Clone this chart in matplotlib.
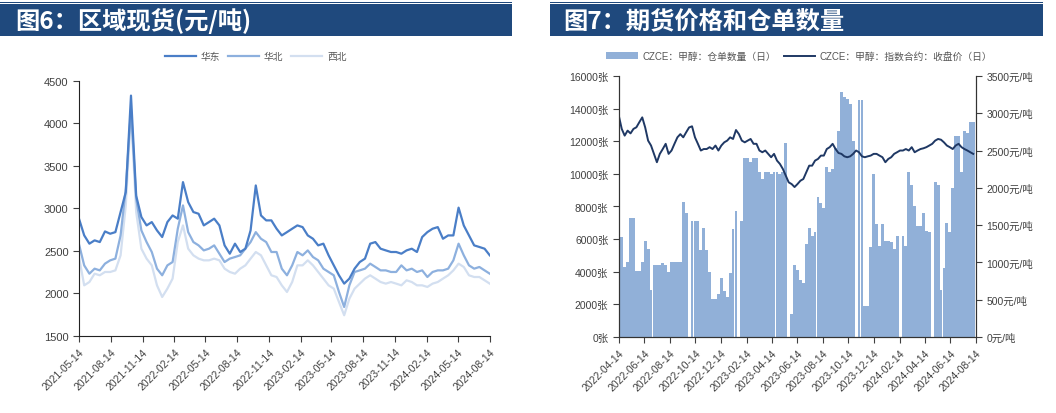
import numpy as np
import pandas as pd
import matplotlib
matplotlib.use("Agg")
import matplotlib.pyplot as plt
import matplotlib.dates as mdates
from matplotlib.patches import Rectangle

plt.rcParams['font.family'] = ['Liberation Sans', 'Noto Sans CJK SC', 'DejaVu Sans']

# ---- 图6 区域现货 (元/吨), semi-monthly readings 2021-05-14 .. 2024-08-14
east = [2880, 2684, 2586, 2625, 2605, 2730, 2703, 2722, 2958, 3192,
        4328, 3150, 2899, 2801, 2840, 2742, 2664, 2840, 2918, 2880,
        3310, 3075, 2958, 2938, 2801, 2840, 2880, 2801, 2566, 2468,
        2586, 2488, 2527, 2742, 3271, 2918, 2860, 2860, 2762, 2683,
        2722, 2762, 2801, 2781, 2683, 2644, 2566, 2586, 2449, 2331,
        2214, 2116, 2175, 2292, 2370, 2410, 2586, 2605, 2527, 2507,
        2488, 2488, 2468, 2507, 2527, 2488, 2664, 2722, 2762, 2781,
        2644, 2683, 2683, 3010, 2800, 2683, 2566, 2547, 2527, 2449]
north = [2580, 2331, 2233, 2292, 2272, 2351, 2390, 2410, 2683, 3232,
         4171, 3114, 2742, 2605, 2488, 2292, 2214, 2331, 2370, 2762,
         3036, 2722, 2605, 2566, 2507, 2527, 2566, 2468, 2370, 2410,
         2429, 2449, 2527, 2605, 2722, 2644, 2605, 2488, 2488, 2292,
         2214, 2331, 2488, 2449, 2507, 2429, 2390, 2292, 2253, 2214,
         2018, 1841, 2096, 2253, 2272, 2292, 2351, 2312, 2272, 2272,
         2253, 2253, 2331, 2272, 2292, 2253, 2272, 2194, 2253, 2272,
         2272, 2292, 2390, 2586, 2449, 2331, 2292, 2312, 2272, 2233]
northwest = [2429, 2096, 2135, 2233, 2214, 2253, 2253, 2272, 2449, 3036,
             4132, 2958, 2527, 2410, 2331, 2096, 1959, 2057, 2175, 2605,
             2801, 2527, 2449, 2410, 2390, 2390, 2410, 2390, 2292, 2253,
             2233, 2292, 2331, 2410, 2488, 2449, 2331, 2214, 2194, 2096,
             2018, 2135, 2331, 2331, 2390, 2331, 2253, 2175, 2096, 2057,
             1900, 1744, 1939, 2057, 2116, 2175, 2214, 2175, 2135, 2116,
             2135, 2116, 2096, 2155, 2135, 2096, 2096, 2077, 2116, 2135,
             2175, 2214, 2272, 2351, 2312, 2214, 2194, 2194, 2155, 2116]
left_dates = pd.date_range('2021-05-14', '2024-08-14', periods=len(east))
left_ticks = pd.date_range('2021-05-01', '2024-08-01', freq='3MS') + pd.Timedelta(days=13)

# ---- 图7 仓单数量 (张) and 收盘价 (元/吨), weekly readings from 2022-04-14
receipts = [6900, 6100, 4300, 4600, 7300, 7300, 4050, 4050, 4600, 5900,
            5400, 2900, 4400, 4400, 4400, 4500, 4400, 4000, 4600, 4600,
            4600, 4600, 8300, 7600, 0, 7100, 7100, 7100, 5300, 6700,
            5300, 4000, 2300, 2300, 2600, 3600, 2800, 2450, 3900, 6600,
            7700, 0, 7100, 11000, 11000, 10700, 11000, 11000, 10100, 9700,
            10100, 10100, 10000, 10100, 10100, 10000, 10100, 11900, 0, 1400,
            4400, 4100, 3500, 3300, 5700, 6700, 6200, 6400, 8600, 8200,
            7900, 10400, 10100, 10300, 11600, 12600, 15000, 14700, 14600, 14300,
            12000, 0, 14500, 14500, 1900, 1900, 5500, 10000, 6900, 5600,
            6900, 5900, 5900, 5800, 5400, 6200, 0, 6200, 5600, 10100,
            9300, 8000, 6800, 6800, 7600, 6500, 6400, 0, 9500, 9300,
            2900, 4200, 7000, 6400, 9100, 12300, 12300, 10100, 12600, 12500,
            13200, 13200]
close = [2967, 2790, 2700, 2767, 2730, 2790, 2812, 2880, 2945, 2810,
         2633, 2567, 2455, 2343, 2455, 2520, 2590, 2455, 2500, 2590,
         2677, 2720, 2677, 2745, 2810, 2825, 2677, 2590, 2500, 2520,
         2520, 2545, 2520, 2567, 2500, 2567, 2610, 2633, 2677, 2655,
         2775, 2720, 2633, 2610, 2633, 2655, 2590, 2590, 2500, 2477,
         2500, 2455, 2410, 2455, 2365, 2320, 2253, 2163, 2073, 2050,
         2010, 2050, 2095, 2118, 2208, 2297, 2297, 2365, 2387, 2432,
         2432, 2520, 2545, 2590, 2520, 2467, 2455, 2422, 2410, 2422,
         2455, 2500, 2477, 2422, 2410, 2422, 2432, 2455, 2455, 2432,
         2410, 2343, 2387, 2410, 2455, 2477, 2500, 2500, 2520, 2500,
         2545, 2477, 2500, 2520, 2530, 2545, 2567, 2590, 2633, 2655,
         2645, 2610, 2567, 2545, 2520, 2567, 2590, 2545, 2520, 2500,
         2477, 2455]
right_dates = pd.date_range('2022-04-14', periods=len(receipts), freq='7D')
right_ticks = pd.date_range('2022-04-01', '2024-08-01', freq='2MS') + pd.Timedelta(days=13)

fig = plt.figure(figsize=(10.56, 4.14), dpi=100)

hdr = '#1F497D'
for x0, w in [(0.0, 0.485), (0.521, 0.467)]:
    fig.add_artist(Rectangle((x0, 0.911), w, 0.077, transform=fig.transFigure,
                             color=hdr, lw=0))
    fig.add_artist(Rectangle((x0, 0.990), w, 0.003, transform=fig.transFigure,
                             color=hdr, lw=0))
fig.text(0.014, 0.949, '图6：区域现货(元/吨)', color='white', fontsize=17.5,
         fontweight='bold', va='center', family=['Noto Sans CJK SC'])
fig.text(0.533, 0.949, '图7：期货价格和仓单数量', color='white', fontsize=17.5,
         fontweight='bold', va='center', family=['Noto Sans CJK SC'])

tick_col = '#404040'

# ---- left chart
ax = fig.add_axes([0.0748, 0.186, 0.389, 0.616])
c_east, c_north, c_nw = '#4A7EC7', '#8DB0DE', '#D3DFF0'
l3, = ax.plot(left_dates, northwest, color=c_nw, lw=1.6)
l2, = ax.plot(left_dates, north, color=c_north, lw=1.6)
l1, = ax.plot(left_dates, east, color=c_east, lw=1.6)
ax.set_ylim(1500, 4500)
ax.set_yticks(range(1500, 4501, 500))
ax.set_xlim(pd.Timestamp('2021-05-14'), pd.Timestamp('2024-08-14'))
ax.set_xticks(left_ticks)
ax.xaxis.set_major_formatter(mdates.DateFormatter('%Y-%m-%d'))
for s in ['top', 'right']:
    ax.spines[s].set_visible(False)
for s in ['left', 'bottom']:
    ax.spines[s].set_color('#222222')
ax.tick_params(axis='both', colors=tick_col, labelsize=8, length=4, direction='out')
ax.tick_params(axis='x', labelsize=7.5)
plt.setp(ax.get_xticklabels(), rotation=45, ha='right', rotation_mode='anchor')
fig.legend([l1, l2, l3], ['华东', '华北', '西北'], loc='center',
           bbox_to_anchor=(0.242, 0.862), ncol=3, frameon=False, fontsize=7,
           handlelength=3.2, columnspacing=0.8, handletextpad=0.5,
           labelcolor='#555555')

# ---- right chart
axr = fig.add_axes([0.586, 0.184, 0.338, 0.630])
bars = axr.bar(right_dates, receipts, width=6.8, color='#91B0D8', lw=0)
axr.set_ylim(0, 16000)
axr.set_yticks(range(0, 16001, 2000))
axr.yaxis.set_major_formatter(lambda v, p: f'{int(v)}张')
axr.set_xlim(pd.Timestamp('2022-04-14'), pd.Timestamp('2024-08-14'))
axr.set_xticks(right_ticks)
axr.xaxis.set_major_formatter(mdates.DateFormatter('%Y-%m-%d'))
axr.spines['top'].set_visible(False)
axr.tick_params(axis='both', colors=tick_col, labelsize=7.5, length=4)
plt.setp(axr.get_xticklabels(), rotation=45, ha='right', rotation_mode='anchor')

ax2 = axr.twinx()
lp, = ax2.plot(right_dates, close, color='#1F3864', lw=1.4)
ax2.set_ylim(0, 3500)
ax2.set_yticks(range(0, 3501, 500))
ax2.yaxis.set_major_formatter(lambda v, p: f'{int(v)}元/吨')
ax2.spines['top'].set_visible(False)
ax2.tick_params(axis='y', colors=tick_col, labelsize=7.5, length=4)
for a in (axr, ax2):
    for s in ['left', 'right', 'bottom']:
        a.spines[s].set_color('#333333')

fig.legend([bars, lp], ['CZCE：甲醇：仓单数量（日）', 'CZCE：甲醇：指数合约：收盘价（日）'],
           loc='center', bbox_to_anchor=(0.757, 0.862), ncol=2, frameon=False,
           fontsize=7, handlelength=3.2, columnspacing=0.8, handletextpad=0.5,
           labelcolor='#555555')

fig.savefig('out.png', dpi=100)
